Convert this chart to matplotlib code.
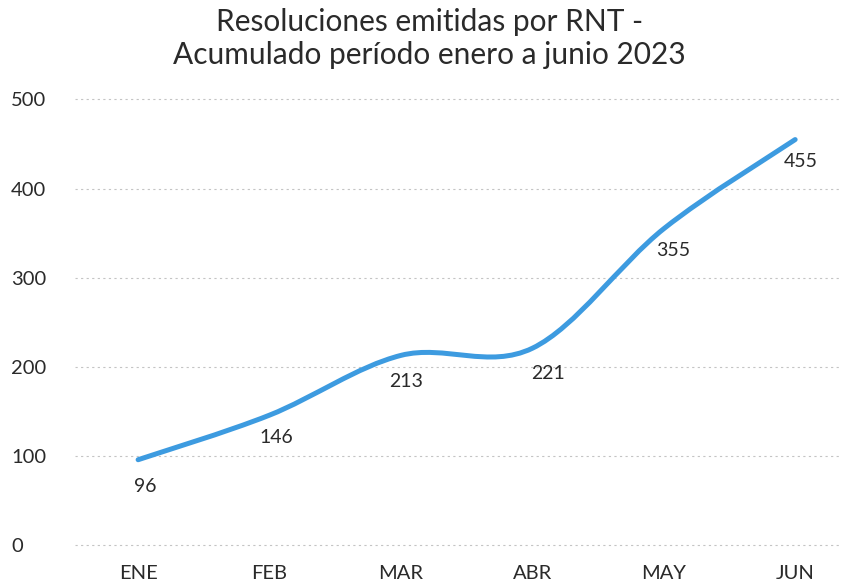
import numpy as np
import matplotlib
matplotlib.use('Agg')
import matplotlib.pyplot as plt
from matplotlib.path import Path
from matplotlib.patches import PathPatch

plt.rcParams['font.family'] = ['Lato', 'DejaVu Sans']

months = ['ENE', 'FEB', 'MAR', 'ABR', 'MAY', 'JUN']
values = [96, 146, 213, 221, 355, 455]
yticks = [0, 100, 200, 300, 400, 500]
# label offsets in points (dx, dy)
offsets = [(5, -19), (5, -16), (4, -19), (11, -18), (7, -16), (4, -16)]

line_color = '#3d9be0'
text_color = '#2a2a2a'

fig = plt.figure(figsize=(8.46, 5.82), dpi=100)
ax = fig.add_axes([0.0887, 0.0584, 0.904, 0.7784])

x = np.arange(len(values), dtype=float)
y = np.array(values, dtype=float)

# smooth line (Catmull-Rom as cubic bezier segments)
verts = [(x[0], y[0])]
codes = [Path.MOVETO]
n = len(x)
for i in range(n - 1):
    p0 = np.array([x[max(i - 1, 0)], y[max(i - 1, 0)]])
    p1 = np.array([x[i], y[i]])
    p2 = np.array([x[i + 1], y[i + 1]])
    p3 = np.array([x[min(i + 2, n - 1)], y[min(i + 2, n - 1)]])
    c1 = p1 + (p2 - p0) / 6
    c2 = p2 - (p3 - p1) / 6
    verts += [tuple(c1), tuple(c2), tuple(p2)]
    codes += [Path.CURVE4] * 3
patch = PathPatch(Path(verts, codes), fill=False, edgecolor=line_color,
                  lw=3.6, capstyle='round', joinstyle='round', zorder=3)
ax.add_patch(patch)

for xi, yi, (dx, dy) in zip(x, y, offsets):
    ax.annotate(str(int(yi)), (xi, yi), xytext=(dx, dy), textcoords='offset points',
                ha='center', va='center', fontsize=14, color=text_color)

ax.set_xlim(-0.48, 5.34)
ax.set_ylim(-3, 505)
ax.set_xticks(x)
ax.set_xticklabels(months, fontsize=14.5, color=text_color)
ax.set_yticks(yticks)
ax.set_yticklabels([str(v) for v in yticks], fontsize=14.5, color=text_color)
for lbl in ax.get_yticklabels():
    lbl.set_ha('left')
ax.tick_params(axis='y', length=0, pad=46)
ax.tick_params(axis='x', length=0, pad=12)
ax.grid(axis='y', color='#c4c4c4', linestyle=(0, (2, 3)), linewidth=0.8)
ax.set_axisbelow(True)
for s in ax.spines.values():
    s.set_visible(False)

fig.text(0.508, 0.963, 'Resoluciones emitidas por RNT -', ha='center', va='center',
         fontsize=21.5, color=text_color)
fig.text(0.508, 0.906, 'Acumulado período enero a junio 2023', ha='center', va='center',
         fontsize=21.5, color=text_color)

plt.savefig('out.png', dpi=100)
